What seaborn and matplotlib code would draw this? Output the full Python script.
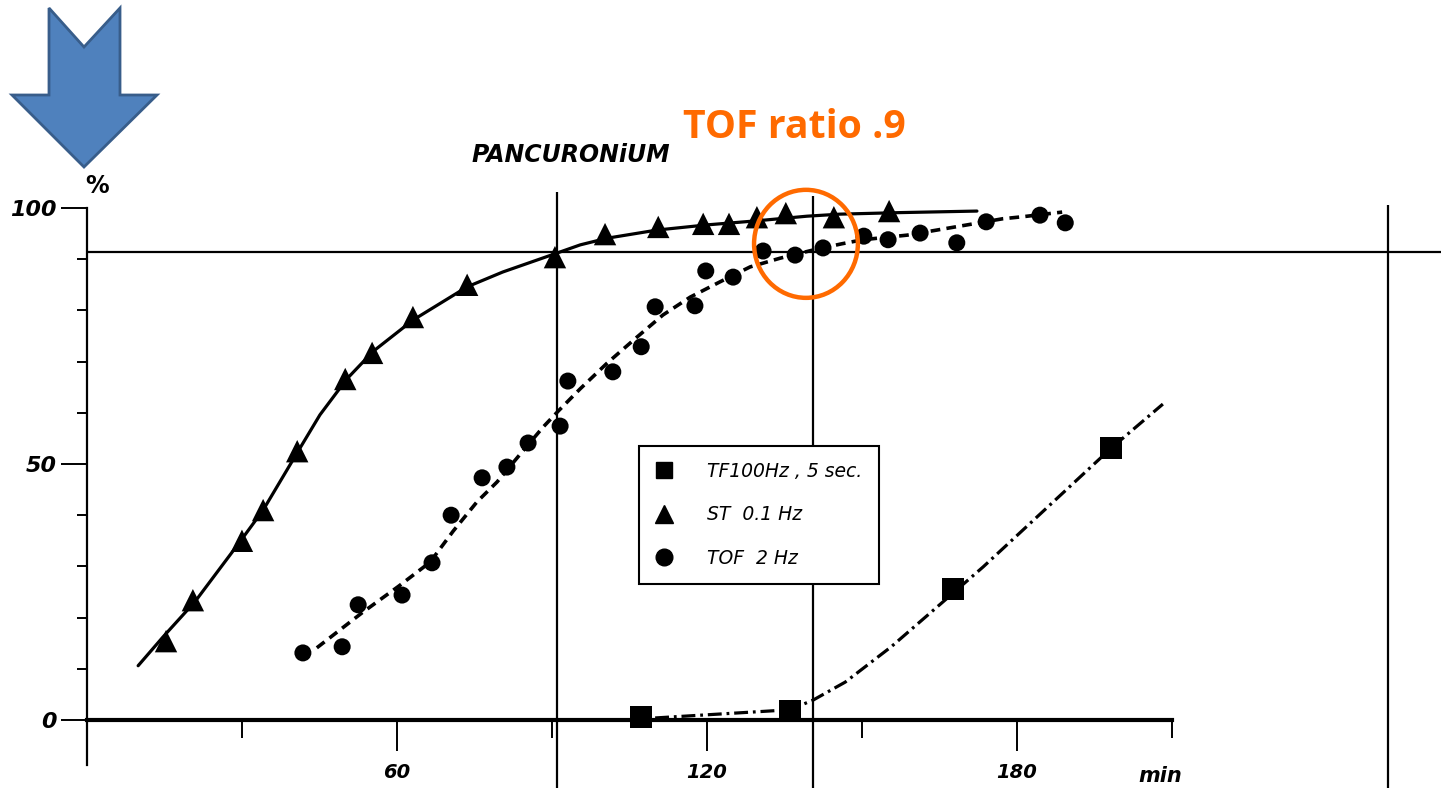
import numpy as np
import pandas as pd
import matplotlib
matplotlib.use("Agg")
import matplotlib.pyplot as plt
import seaborn as sns
from matplotlib.lines import Line2D
from matplotlib.patches import Ellipse, Polygon

# ---------------- data ----------------
# TF 100 Hz, 5 sec. (squares)
tf_time = [107.3, 136.1, 167.7, 198.3]
tf_val = [0.6, 1.8, 25.6, 53.1]
tf_curve_time = [110.0, 136.1, 140.6, 146.8, 155.7, 166.1, 173.5, 198.3, 208.3]
tf_curve_val = [0.4, 2.0, 3.9, 7.4, 14.3, 23.4, 29.9, 53.1, 61.7]

# ST 0.1 Hz (triangles)
st_time = [15.3, 20.5, 30.0, 34.1, 40.7, 50.0, 55.2, 63.1, 73.6, 90.6,
           100.3, 110.6, 119.3, 124.3, 129.7, 135.3, 144.6, 155.3]
st_val = [15.4, 23.4, 35.0, 41.0, 52.5, 66.6, 71.7, 78.7, 85.0, 90.4,
          94.9, 96.3, 96.9, 96.9, 98.2, 99.0, 98.2, 99.4]
st_curve_time = [9.9, 14.7, 20.9, 29.6, 34.1, 40.7, 45.1, 50.3, 55.4, 63.1,
                 73.6, 80.5, 91.0, 95.5, 100.7, 110.4, 120.0, 129.7, 139.4,
                 145.8, 157.4, 172.3]
st_curve_val = [10.6, 16.2, 23.1, 34.8, 41.0, 52.2, 59.6, 66.6, 72.0, 78.1,
                84.6, 87.5, 91.2, 92.8, 94.1, 95.7, 96.7, 97.5, 98.4,
                98.8, 99.1, 99.4]

# TOF 2 Hz (circles)
tof_time = [41.8, 49.4, 52.5, 61.0, 66.8, 70.5, 76.5, 81.3, 85.4, 91.6, 93.1,
            101.8, 107.3, 110.0, 117.7, 119.8, 125.1, 130.9, 137.1, 142.5,
            150.4, 155.1, 161.3, 168.4, 174.1, 184.5, 189.4]
tof_val = [13.1, 14.3, 22.5, 24.4, 30.7, 40.0, 47.3, 49.4, 54.1, 57.4, 66.2,
           68.0, 72.9, 80.7, 80.9, 87.7, 86.5, 91.6, 90.8, 92.2,
           94.5, 93.8, 95.1, 93.2, 97.3, 98.6, 97.1]
tof_curve_time = [44.5, 53.2, 60.3, 66.4, 70.9, 75.5, 79.4, 84.1, 88.3, 91.3,
                  95.5, 100.7, 106.5, 111.5, 116.8, 122.6, 128.4, 134.2, 140.6,
                  146.1, 150.2, 158.8, 164.6, 170.4, 177.3, 181.2, 188.8]
tof_curve_val = [14.1, 20.9, 26.1, 30.8, 36.9, 42.6, 46.5, 52.2, 57.2, 60.4,
                 64.7, 69.7, 74.8, 79.1, 82.6, 85.6, 88.5, 90.2, 91.8,
                 93.0, 93.8, 94.7, 95.7, 96.7, 97.9, 98.3, 99.2]

legend_labels = ["TF100Hz , 5 sec.", "ST  0.1 Hz", "TOF  2 Hz"]
x_major = [60, 120, 180]
x_minor = [30, 90, 150, 210]
y_major = [0, 50, 100]
y_minor = [10, 20, 30, 40, 60, 70, 80, 90]

# reference lines (TOF ratio .9 level and time markers)
ref_level = 91.4
ref_times = [91.0, 140.6, 251.9]
ref_tops = [103.1, 102.3, 100.6]

# ---------------- figure ----------------
sns.set_style("white", rc={"axes.edgecolor": "black", "text.color": "black",
                           "xtick.color": "black", "ytick.color": "black",
                           "xtick.bottom": True, "ytick.left": True})
plt.rcParams['font.family'] = ['DejaVu Sans']
plt.rcParams['lines.scale_dashes'] = False

W, H = 1441, 788
fig = plt.figure(figsize=(W / 100, H / 100), dpi=100)
ax = fig.add_axes([0, 0, 1, 1])
ax.set_facecolor("white")
ax.set_xlim(-87 / 5.165, (W - 87) / 5.165)
ax.set_ylim((720 - H) / 5.12, 720 / 5.12)

# spines
for s in ["top", "right"]:
    ax.spines[s].set_visible(False)
ax.spines["left"].set_position(("data", 0))
ax.spines["bottom"].set_position(("data", 0))
ax.spines["left"].set_bounds(-8.8, 100)
ax.spines["bottom"].set_bounds(0, 210)
ax.spines["left"].set_linewidth(1.6)
ax.spines["bottom"].set_linewidth(3.0)
ax.spines["left"].set_color("black")
ax.spines["bottom"].set_color("black")
ax.spines["left"].set_zorder(5)
ax.spines["bottom"].set_zorder(5)

ax.set_xticks(x_major)
ax.set_xticks(x_minor, minor=True)
ax.set_yticks(y_major)
ax.set_yticks(y_minor, minor=True)
ax.set_xticklabels([str(v) for v in x_major])
ax.set_yticklabels([str(v) for v in y_major])
ax.tick_params(axis="x", which="both", bottom=True, top=False)
ax.tick_params(axis="y", which="both", left=True, right=False)
ax.tick_params(axis="x", which="major", direction="out", length=22, width=1.4,
               pad=9, labelsize=14, colors="black")
ax.tick_params(axis="x", which="minor", direction="out", length=13, width=1.4,
               colors="black")
ax.tick_params(axis="y", which="major", direction="out", length=19, width=1.4,
               pad=3, labelsize=16, colors="black")
ax.tick_params(axis="y", which="minor", direction="out", length=7, width=1.4,
               colors="black")
for lab in ax.get_xticklabels() + ax.get_yticklabels():
    lab.set_fontstyle("italic")
    lab.set_fontweight("bold")

# reference lines
ax.hlines(ref_level, 0, ax.get_xlim()[1], color="black", lw=1.6, zorder=2)
for t, top in zip(ref_times, ref_tops):
    ax.vlines(t, ax.get_ylim()[0], top, color="black", lw=1.6, zorder=2)

# curves
sns.lineplot(x=st_curve_time, y=st_curve_val, ax=ax, color="black", lw=2.3,
             sort=False, estimator=None, zorder=3)
sns.lineplot(x=tof_curve_time, y=tof_curve_val, ax=ax, color="black", lw=2.6,
             sort=False, estimator=None, linestyle=(0, (7, 4.5)), zorder=3)
sns.lineplot(x=tf_curve_time, y=tf_curve_val, ax=ax, color="black", lw=2.3,
             sort=False, estimator=None, linestyle=(0, (10, 3.5, 2, 3.5)), zorder=3)

# markers
sns.scatterplot(x=st_time, y=st_val, ax=ax, marker="^", s=260, color="black",
                edgecolor="none", zorder=4)
sns.scatterplot(x=tof_time, y=tof_val, ax=ax, marker="o", s=150, color="black",
                edgecolor="none", zorder=4)
sns.scatterplot(x=tf_time, y=tf_val, ax=ax, marker="s", s=250, color="black",
                edgecolor="none", zorder=4)

# legend
handles = [Line2D([], [], ls="none", marker=m, color="black", markersize=ms)
           for m, ms in zip(["s", "^", "o"], [12, 13, 12])]
leg = ax.legend(handles, legend_labels, loc="upper left",
                bbox_to_anchor=(639 / W, 1 - 446 / H), bbox_transform=fig.transFigure,
                frameon=True, fancybox=False, framealpha=1, facecolor="white",
                edgecolor="black", borderaxespad=0, borderpad=0.85,
                labelspacing=1.3, handlelength=1.0, handletextpad=1.8,
                prop={"style": "italic", "size": 13.5})
leg.get_frame().set_linewidth(1.5)
leg.set_zorder(6)

# orange highlight circle
ax.add_patch(Ellipse((139.2, 93.0), 20.1, 21.1, fill=False, edgecolor="#FF6A00",
                     lw=3.2, zorder=7))

# texts
def ftext(px, py, s, **kw):
    fig.text(px / W, 1 - py / H, s, transform=fig.transFigure, **kw)

ftext(97, 186, "%", fontsize=17, fontweight="bold", ha="center", va="center")
ftext(571, 155, "PANCURONiUM", fontsize=17, fontstyle="italic", fontweight="bold",
      ha="center", va="center")
ftext(683, 127, "TOF ratio .9", fontsize=28.3, fontweight="bold", color="#FF6A00",
      ha="left", va="center", family=["Open Sans", "DejaVu Sans"])
ftext(1160, 776, "min", fontsize=15, fontstyle="italic", fontweight="bold",
      ha="center", va="center")

# blue down arrow
arrow_px = [(49, 8), (84, 47), (120, 8), (120, 95), (157, 95), (84, 167),
            (12, 95), (49, 95)]
fig.patches.append(Polygon([(x / W, 1 - y / H) for x, y in arrow_px], closed=True,
                           transform=fig.transFigure, facecolor="#4F81BD",
                           edgecolor="#385D8A", lw=2, zorder=10))

fig.savefig("out.png", dpi=100, facecolor="white")
